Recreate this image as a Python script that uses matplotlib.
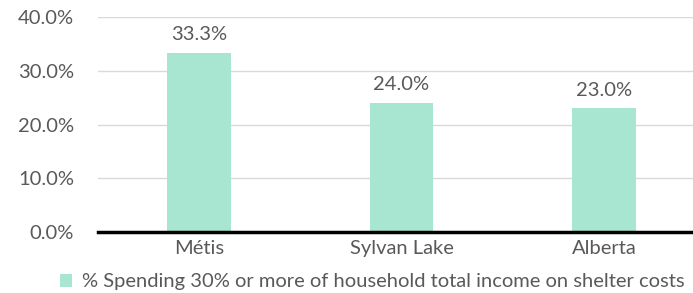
import matplotlib.pyplot as plt
from matplotlib.ticker import FuncFormatter

categories = ["Métis", "Sylvan Lake", "Alberta"]
values = [33.3, 24.0, 23.0]
series_name = "% Spending 30% or more of household total income on shelter costs"

plt.rcParams['font.family'] = ['Lato', 'DejaVu Sans']

fig = plt.figure(figsize=(6.93, 2.93), dpi=100)
ax = fig.add_axes([97.75 / 693, 61 / 293, 607.5 / 693, 215 / 293])

bar_color = '#a8e6d2'
text_color = '#595959'
fs = 14.5

x = range(len(categories))
bars = ax.bar(x, values, width=0.316, color=bar_color, zorder=3, label=series_name)
for b, v in zip(bars, values):
    ax.annotate(f"{v:.1f}%", (b.get_x() + b.get_width() / 2, v),
                xytext=(0, 7), textcoords='offset points',
                ha='center', va='bottom', fontsize=fs, color=text_color)

ax.set_xlim(-0.5, 2.5)
ax.set_ylim(0, 40)
ax.set_yticks([0, 10, 20, 30, 40])
ax.yaxis.set_major_formatter(FuncFormatter(lambda v, p: f"{v:.1f}%"))
ax.set_xticks(list(x))
ax.set_xticklabels(categories)
ax.tick_params(axis='both', length=0, labelsize=fs, labelcolor=text_color)
ax.tick_params(axis='y', pad=17)
ax.tick_params(axis='x', pad=6)

ax.grid(axis='y', color='#d9d9d9', linewidth=1, zorder=0)
for s in ['top', 'right', 'left']:
    ax.spines[s].set_visible(False)
ax.spines['bottom'].set_color('black')
ax.spines['bottom'].set_linewidth(2.5)
ax.spines['bottom'].set_zorder(4)

fig.legend(handles=[bars], labels=[series_name], loc='center',
           bbox_to_anchor=(372 / 693, 11 / 293), frameon=False,
           fontsize=fs, labelcolor=text_color, handlelength=0.6,
           handleheight=0.6, handletextpad=0.5, borderpad=0)

fig.savefig("out.png", dpi=100)
